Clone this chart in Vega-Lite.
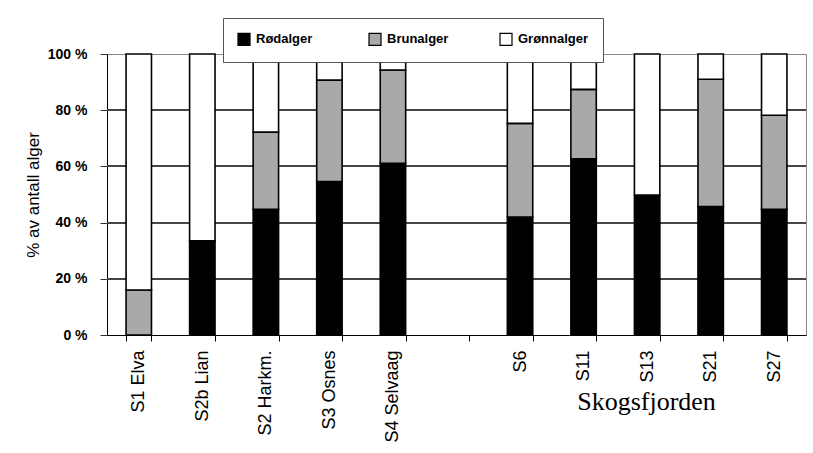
{
  "$schema": "https://vega.github.io/schema/vega-lite/v6.json",
  "width": 699,
  "height": 281,
  "autosize": {"type": "none"},
  "padding": {"left": 107, "top": 54, "right": 7, "bottom": 118},
  "config": {
    "view": {"stroke": "#888888", "strokeWidth": 1},
    "font": "Arial"
  },
  "data": {
    "values": [
      {"site": "S1 Elva", "type": "Brunalger", "ord": 2, "pct": 16},
      {"site": "S1 Elva", "type": "Grønnalger", "ord": 3, "pct": 84},
      {"site": "S2b Lian", "type": "Rødalger", "ord": 1, "pct": 33.5},
      {"site": "S2b Lian", "type": "Grønnalger", "ord": 3, "pct": 66.5},
      {"site": "S2 Harkm.", "type": "Rødalger", "ord": 1, "pct": 44.7},
      {"site": "S2 Harkm.", "type": "Brunalger", "ord": 2, "pct": 27.5},
      {"site": "S2 Harkm.", "type": "Grønnalger", "ord": 3, "pct": 27.8},
      {"site": "S3 Osnes", "type": "Rødalger", "ord": 1, "pct": 54.6},
      {"site": "S3 Osnes", "type": "Brunalger", "ord": 2, "pct": 36.1},
      {"site": "S3 Osnes", "type": "Grønnalger", "ord": 3, "pct": 9.3},
      {"site": "S4 Selvaag", "type": "Rødalger", "ord": 1, "pct": 61.1},
      {"site": "S4 Selvaag", "type": "Brunalger", "ord": 2, "pct": 33.2},
      {"site": "S4 Selvaag", "type": "Grønnalger", "ord": 3, "pct": 5.7},
      {"site": "S6", "type": "Rødalger", "ord": 1, "pct": 42},
      {"site": "S6", "type": "Brunalger", "ord": 2, "pct": 33.3},
      {"site": "S6", "type": "Grønnalger", "ord": 3, "pct": 24.7},
      {"site": "S11", "type": "Rødalger", "ord": 1, "pct": 62.7},
      {"site": "S11", "type": "Brunalger", "ord": 2, "pct": 24.7},
      {"site": "S11", "type": "Grønnalger", "ord": 3, "pct": 12.6},
      {"site": "S13", "type": "Rødalger", "ord": 1, "pct": 49.8},
      {"site": "S13", "type": "Grønnalger", "ord": 3, "pct": 50.2},
      {"site": "S21", "type": "Rødalger", "ord": 1, "pct": 45.7},
      {"site": "S21", "type": "Brunalger", "ord": 2, "pct": 45.3},
      {"site": "S21", "type": "Grønnalger", "ord": 3, "pct": 9},
      {"site": "S27", "type": "Rødalger", "ord": 1, "pct": 44.7},
      {"site": "S27", "type": "Brunalger", "ord": 2, "pct": 33.5},
      {"site": "S27", "type": "Grønnalger", "ord": 3, "pct": 21.8}
    ]
  },
  "layer": [
    {"mark": {"type": "rule", "color": "#444444", "strokeWidth": 1}, "encoding": {"y": {"datum": 20, "type": "quantitative"}}},
    {"mark": {"type": "rule", "color": "#444444", "strokeWidth": 1}, "encoding": {"y": {"datum": 40, "type": "quantitative"}}},
    {"mark": {"type": "rule", "color": "#444444", "strokeWidth": 1}, "encoding": {"y": {"datum": 60, "type": "quantitative"}}},
    {"mark": {"type": "rule", "color": "#444444", "strokeWidth": 1}, "encoding": {"y": {"datum": 80, "type": "quantitative"}}},
    {
      "mark": {"type": "bar", "stroke": "black", "strokeWidth": 1.6},
      "encoding": {
        "x": {
          "field": "site",
          "type": "nominal",
          "scale": {
            "domain": ["S1 Elva", "S2b Lian", "S2 Harkm.", "S3 Osnes", "S4 Selvaag", " ", "S6", "S11", "S13", "S21", "S27"],
            "paddingInner": 0.6,
            "paddingOuter": 0.3
          },
          "axis": {
            "title": "Skogsfjorden",
            "titleFont": "Times New Roman",
            "titleFontSize": 26,
            "titleFontWeight": "normal",
            "titleColor": "black",
            "titleX": 539,
            "titleY": 74,
            "titleAlign": "center",
            "titleBaseline": "alphabetic",
            "labelFont": "Arial",
            "labelFontSize": 18,
            "labelAngle": -90,
            "labelPadding": 9,
            "labelColor": "black",
            "tickBand": "extent",
            "tickSize": 6,
            "tickColor": "black",
            "domainColor": "black",
            "grid": false
          }
        },
        "y": {
          "field": "pct",
          "type": "quantitative",
          "stack": "zero",
          "scale": {"domain": [0, 100]},
          "axis": {
            "title": "% av antall alger",
            "titleFont": "Arial",
            "titleFontSize": 17,
            "titleFontWeight": "normal",
            "titleColor": "black",
            "titlePadding": 5,
            "values": [0, 20, 40, 60, 80, 100],
            "labelExpr": "datum.value + ' %'",
            "labelFont": "Arial",
            "labelFontSize": 14,
            "labelFontWeight": "bold",
            "labelColor": "black",
            "labelPadding": 13,
            "tickSize": 7,
            "tickColor": "#333333",
            "domainColor": "black",
            "grid": false
          }
        },
        "color": {
          "field": "type",
          "type": "nominal",
          "scale": {
            "domain": ["Rødalger", "Brunalger", "Grønnalger"],
            "range": ["#000000", "#a9a9a9", "#ffffff"]
          },
          "legend": {
            "title": null,
            "orient": "none",
            "legendX": 116,
            "legendY": -36,
            "direction": "horizontal",
            "columns": 3,
            "gridAlign": "all",
            "columnPadding": 39,
            "symbolType": "square",
            "symbolSize": 144,
            "symbolStrokeColor": "black",
            "symbolStrokeWidth": 1.2,
            "labelFont": "Arial",
            "labelFontSize": 13,
            "labelFontWeight": "bold",
            "labelColor": "black",
            "labelOffset": 5,
            "padding": 14,
            "fillColor": "white",
            "strokeColor": "#555555"
          }
        },
        "order": {"field": "ord", "type": "quantitative"}
      }
    }
  ]
}
